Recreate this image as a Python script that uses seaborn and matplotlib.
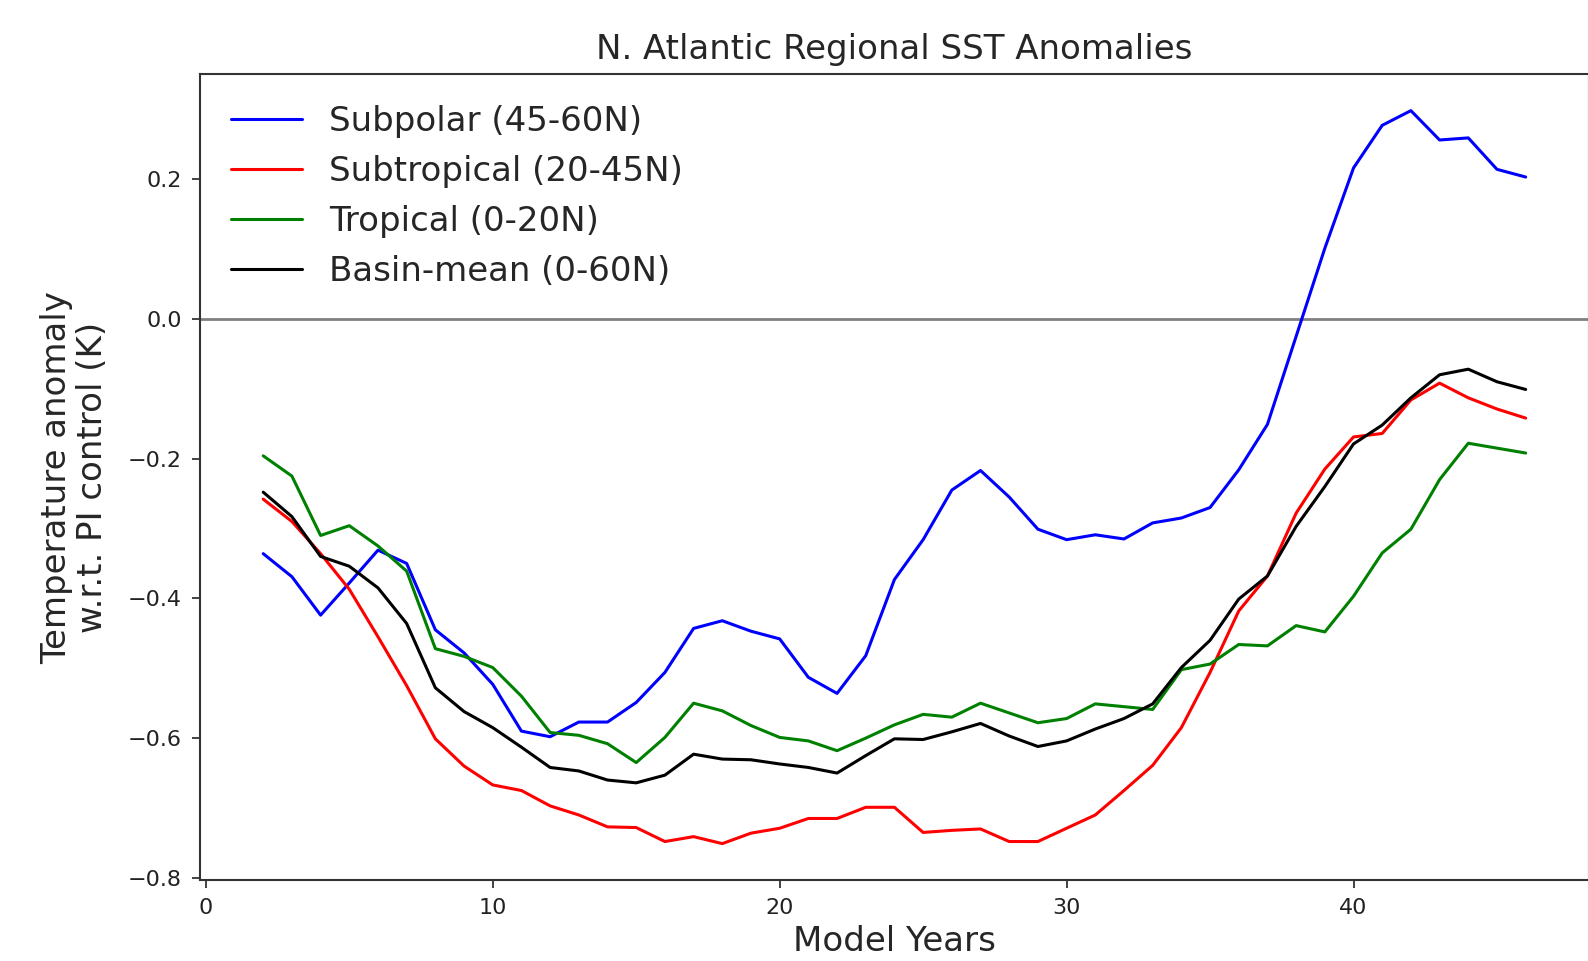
import numpy as np
import pandas as pd
import matplotlib
matplotlib.use('Agg')
import matplotlib.pyplot as plt
import seaborn as sns

# Modelljahre 2..46
years = list(range(2, 47))

subpolar = [-0.336, -0.369, -0.424, -0.378, -0.331, -0.350, -0.445, -0.478, -0.523, -0.590,
            -0.598, -0.577, -0.577, -0.549, -0.506, -0.443, -0.432, -0.447, -0.458, -0.513,
            -0.536, -0.482, -0.373, -0.316, -0.245, -0.217, -0.255, -0.301, -0.316, -0.309,
            -0.315, -0.292, -0.285, -0.270, -0.216, -0.151, -0.025, 0.101, 0.216, 0.277,
            0.298, 0.256, 0.259, 0.214, 0.203]

subtropical = [-0.258, -0.290, -0.336, -0.387, -0.455, -0.525, -0.601, -0.640, -0.667, -0.675,
               -0.697, -0.710, -0.727, -0.728, -0.748, -0.741, -0.751, -0.736, -0.729, -0.715,
               -0.715, -0.699, -0.699, -0.735, -0.732, -0.730, -0.748, -0.748, -0.729, -0.710,
               -0.675, -0.639, -0.585, -0.506, -0.418, -0.368, -0.278, -0.215, -0.169, -0.164,
               -0.116, -0.092, -0.113, -0.129, -0.142]

tropical = [-0.196, -0.225, -0.310, -0.296, -0.325, -0.361, -0.472, -0.483, -0.499, -0.540,
            -0.592, -0.596, -0.608, -0.635, -0.599, -0.550, -0.561, -0.582, -0.599, -0.604,
            -0.618, -0.600, -0.581, -0.566, -0.570, -0.550, -0.564, -0.578, -0.572, -0.551,
            -0.555, -0.559, -0.502, -0.494, -0.466, -0.468, -0.439, -0.448, -0.397, -0.335,
            -0.301, -0.230, -0.178, -0.185, -0.192]

basin_mean = [-0.248, -0.283, -0.340, -0.354, -0.385, -0.436, -0.528, -0.562, -0.585, -0.613,
              -0.642, -0.647, -0.660, -0.664, -0.653, -0.623, -0.630, -0.631, -0.637, -0.642,
              -0.650, -0.625, -0.601, -0.602, -0.591, -0.579, -0.597, -0.612, -0.604, -0.587,
              -0.572, -0.551, -0.499, -0.460, -0.401, -0.368, -0.297, -0.240, -0.179, -0.152,
              -0.113, -0.080, -0.072, -0.090, -0.101]

labels = ['Subpolar (45-60N)', 'Subtropical (20-45N)', 'Tropical (0-20N)', 'Basin-mean (0-60N)']
colors = ['#0000ff', '#ff0000', '#008000', '#000000']

# Langformat für seaborn
df = pd.DataFrame({
    'year': years * 4,
    'anomaly': subpolar + subtropical + tropical + basin_mean,
    'region': np.repeat(labels, len(years)),
})

sns.set_style('ticks')
plt.rcParams['font.family'] = ['DejaVu Sans']

fig = plt.figure(figsize=(15.88, 9.61), dpi=100)
ax = fig.add_axes([0.126, 0.084, 0.8745, 0.839])

ax.axhline(0, color='grey', linewidth=2, zorder=1)
sns.lineplot(data=df, x='year', y='anomaly', hue='region', hue_order=labels,
             palette=dict(zip(labels, colors)), linewidth=2.2, ax=ax)

ax.set_xticks([0, 10, 20, 30, 40])
ax.set_yticks([-0.8, -0.6, -0.4, -0.2, 0.0, 0.2])
ax.tick_params(labelsize=16, length=6, width=1.2, pad=7, colors='#222222')
for spine in ax.spines.values():
    spine.set_linewidth(1.5)
    spine.set_color('#333333')

ax.set_title('N. Atlantic Regional SST Anomalies', fontsize=24.5, pad=11)
ax.set_xlabel('Model Years', fontsize=24.5, labelpad=5)
ax.set_ylabel('Temperature anomaly\nw.r.t. PI control (K)', fontsize=24.5, labelpad=14,
              linespacing=1.1)

leg = ax.legend(loc='upper left', frameon=False, fontsize=24.5, handlelength=2.1,
                borderaxespad=0.5, labelspacing=0.5, handletextpad=0.8)
for line in leg.get_lines():
    line.set_linewidth(2.2)

fig.savefig('out.png', dpi=100)
